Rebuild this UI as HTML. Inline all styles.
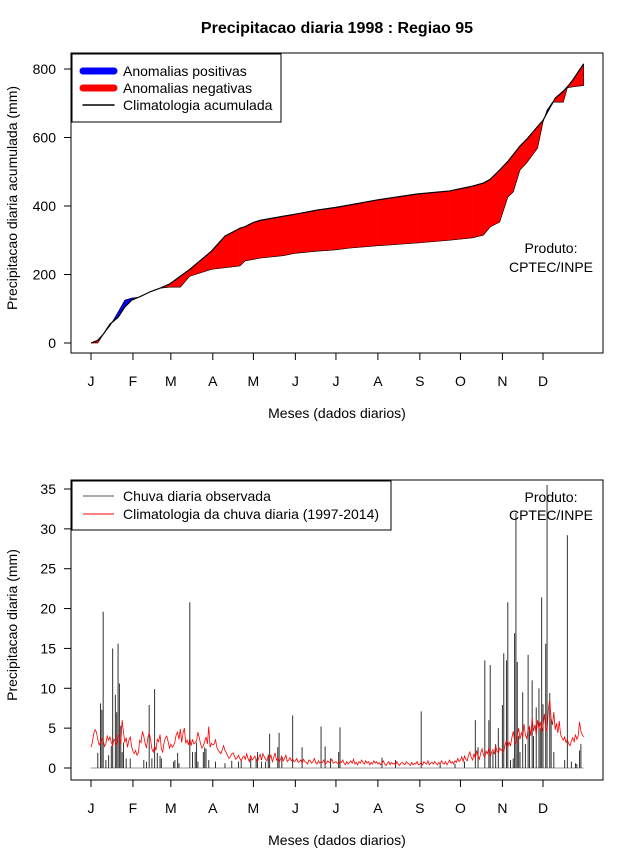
<!DOCTYPE html>
<html><head><meta charset="utf-8">
<style>
html,body{margin:0;padding:0;background:#fff;}
svg{display:block;font-family:"Liberation Sans",Arial,sans-serif;}
</style></head>
<body>
<svg id="chart" width="640" height="850" viewBox="0 0 640 850" xmlns="http://www.w3.org/2000/svg">
<rect width="640" height="850" fill="#fff"/>
<text x="337" y="33" text-anchor="middle" font-size="16" font-weight="bold">Precipitacao diaria 1998 : Regiao 95</text>
<g id="top"></g>
<g id="bot"></g>
</svg>
<script>
const monthLabels=["J","F","M","A","M","J","J","A","S","O","N","D"];
const monthStartDays=[1,32,60,91,121,152,182,213,244,274,305,335];
const topYTicks=[0,200,400,600,800];
const botYTicks=[0,5,10,15,20,25,30,35];
// cumulative panel data
const accDays=[1,6,10,15,21,26,31,37,45,52,59,67,74,90,100,111,115,121,126,143,152,168,182,192,213,242,266,283,291,296,303,309,313,318,323,331,335,338,342,344,350,353,357,365];
const climAcc=[0,8,25,55,75,105,125,135,150,160,172,195,215,268,312,335,340,352,358,370,376,388,396,403,418,435,444,458,467,478,505,530,550,575,595,632,650,672,700,715,735,748,768,815];
const obsAcc=[0,0,25,50,90,125,131,134,150,160,163,163,195,215,220,225,240,244,248,255,262,268,272,277,284,292,300,307,315,339,353,426,441,505,526,569,645,680,703,703,703,745,748,752];
// daily panel data
const climDaily=[2.6,3.2,4.3,4.8,4.5,3.6,2.9,3.2,3.8,3.4,2.7,3.1,4.0,3.5,3.9,3.2,2.8,3.6,3.3,2.9,4.2,3.8,3.0,6.0,4.5,3.2,3.8,2.6,3.5,3.9,2.7,
2.1,1.8,2.2,1.6,1.9,3.5,3.2,4.6,4.0,3.1,2.5,3.8,4.4,3.6,2.4,2.0,2.8,2.2,3.6,3.3,4.2,2.4,2.0,3.2,3.8,4.0,3.3,2.5,
3.0,2.6,2.8,3.3,4.2,4.5,3.6,4.9,3.2,4.4,5.0,3.1,3.5,2.9,3.7,2.8,3.6,3.0,3.2,3.4,4.5,3.8,3.0,2.5,2.8,3.3,3.9,3.0,5.2,2.6,3.1,
2.9,3.0,3.6,2.6,2.2,2.0,1.8,2.3,2.8,2.2,1.9,1.5,1.2,1.4,1.8,1.9,1.5,1.1,1.3,1.6,1.2,0.9,1.3,1.5,1.1,1.8,1.2,0.8,1.6,1.0,
1.2,1.5,1.1,0.8,1.3,1.7,1.0,1.8,1.4,1.1,0.9,1.5,1.2,1.6,0.8,1.3,1.9,1.0,1.2,0.7,1.1,1.5,0.9,1.2,1.6,0.8,1.0,1.3,0.9,1.1,0.8,
0.9,1.2,0.7,0.8,1.0,0.6,1.1,0.8,0.7,0.5,1.0,0.9,0.6,0.8,1.2,0.7,0.5,0.9,0.6,0.8,0.7,1.0,0.5,0.6,0.9,0.7,0.8,1.1,0.6,0.7,
0.8,0.6,0.5,0.9,0.7,1.0,0.6,0.4,0.8,0.5,0.7,0.9,0.6,1.1,0.5,0.7,0.4,0.8,0.6,1.0,0.7,0.5,0.9,0.6,0.8,0.4,0.7,0.5,0.9,0.6,0.8,
0.5,0.7,0.4,0.6,0.9,0.5,0.3,0.6,0.8,0.4,0.7,0.5,0.6,0.4,0.8,0.5,0.3,0.6,0.7,0.5,0.4,0.8,0.6,0.5,0.3,0.7,0.4,0.6,0.5,0.8,0.4,
0.5,0.7,0.4,0.8,0.6,0.5,0.9,0.4,0.6,0.7,0.5,0.8,0.6,0.4,0.7,0.5,0.9,0.6,0.5,0.8,0.4,0.7,1.0,0.6,0.8,0.5,0.9,0.7,1.2,0.8,
1.0,1.4,0.8,1.5,1.1,0.9,1.6,2.0,1.3,1.0,1.8,1.2,2.2,1.5,1.1,1.9,2.4,1.6,1.3,2.1,1.8,2.6,1.4,2.0,2.3,1.7,2.8,2.1,1.9,2.5,2.2,
2.4,2.0,2.9,3.5,2.6,3.2,2.8,3.8,4.6,3.4,3.0,4.2,5.0,3.6,4.4,3.9,5.5,4.1,3.7,4.8,5.2,4.0,6.3,4.6,5.4,4.2,6.0,4.9,5.8,4.5,
5.2,6.8,5.0,4.6,7.5,8.5,6.2,5.4,7.0,4.8,5.6,4.4,5.9,4.2,3.8,3.5,3.9,3.2,3.6,3.0,2.8,3.4,3.8,3.3,4.2,3.6,4.0,5.8,4.6,4.2,3.9];
const obsDays=[6,8,9,10,12,14,16,17,19,20,21,22,23,24,25,27,30,40,42,44,46,48,50,52,53,62,63,65,66,74,76,78,79,80,84,85,86,88,93,100,105,110,112,119,123,124,127,130,132,133,139,140,142,150,157,171,174,178,184,185,216,226,245,259,270,277,285,287,292,295,296,298,300,302,305,306,308,309,311,313,314,315,316,317,318,320,322,324,325,327,328,330,332,333,334,335,337,338,340,341,343,351,353,356,359,360,362,363];
const obsVals=[1.9,8.1,7.3,19.6,1.0,1.6,2.8,15,9.2,7.0,15.6,10.6,5.3,2.0,3.2,1.2,1.2,1.0,0.8,7.9,1.2,9.9,1.9,1.5,1.2,0.8,1.0,1.9,0.6,20.8,2.0,2.0,3.2,0.8,2.0,2.6,2.4,1.0,0.8,0.6,0.9,0.8,1.0,1.2,1.2,2.0,0.8,0.8,1.7,4.3,2.6,4.4,1.4,6.6,2.6,5.2,2.7,1.2,2.0,5.1,1.3,1.0,7.1,0.6,0.5,0.8,6.0,2.6,13.5,6.0,12.9,2.0,3.0,5.0,7.9,14.4,13.5,20.8,1.0,1.2,16.9,32,13.3,4.0,2.0,9.5,3.0,14.2,5.0,11,4.0,7.6,10,5.0,21.4,8.0,15.6,35.5,9.4,6.2,2.0,1.0,29.2,0.8,0.6,0.5,2.2,3.0];

const NS="http://www.w3.org/2000/svg";
function mk(parent,tag,attrs,txt){const e=document.createElementNS(NS,tag);for(const k in attrs)e.setAttribute(k,attrs[k]);if(txt!==undefined)e.textContent=txt;parent.appendChild(e);return e;}
const xS=d=>91+(d-1)*(452/334);
const yTop=v=>343-v*(274/800);
const yBot=v=>768-v*(279/35);

function axes(g,top,bottom,yS,ticks,xlabY,xtitleY,ytitle,ytitleY){
  const b=mk(g,'rect',{x:71,y:top,width:532,height:bottom-top,fill:'none',stroke:'#000','stroke-width':1});
  
  const ya=mk(g,'g',{});
  mk(ya,'line',{x1:71,x2:71,y1:yS(ticks[0]),y2:yS(ticks[ticks.length-1]),stroke:'#000'});
  ticks.forEach(t=>{const y=yS(t);mk(ya,'line',{x1:64,x2:71,y1:y,y2:y,stroke:'#000'});
    const tl=mk(ya,'text',{x:56,y:y+5,'text-anchor':'end','font-size':14},String(t));
    });
  const xa=mk(g,'g',{});
  monthStartDays.forEach((d,i)=>{const x=xS(d);mk(xa,'line',{x1:x,x2:x,y1:bottom,y2:bottom+7,stroke:'#000'});
    const tl=mk(xa,'text',{x:x,y:xlabY,'text-anchor':'middle','font-size':14},monthLabels[i]);
    });
  const xt=mk(g,'text',{x:337,y:xtitleY,'text-anchor':'middle','font-size':14},'Meses (dados diarios)');
  
  const yt=mk(g,'text',{x:0,y:0,'text-anchor':'middle','font-size':14,transform:`translate(17,${ytitleY}) rotate(-90)`},ytitle);
  
}

// ---- top panel
const T=document.getElementById('top');
const fills=mk(T,'g',{});
for(let i=0;i<accDays.length-1;i++){
  const x0=xS(accDays[i]),x1=xS(accDays[i+1]);
  const c0=climAcc[i],c1=climAcc[i+1],o0=obsAcc[i],o1=obsAcc[i+1];
  const d0=o0-c0,d1=o1-c1;
  const segs=[];
  if(d0*d1<0){const f=d0/(d0-d1);const xm=x0+(x1-x0)*f;const vm=c0+(c1-c0)*f;
    segs.push([[x0,c0,o0],[xm,vm,vm],d0]);segs.push([[xm,vm,vm],[x1,c1,o1],d1]);}
  else segs.push([[x0,c0,o0],[x1,c1,o1],d0+d1]);
  segs.forEach(s=>{const a=s[0],b=s[1];if(s[2]===0)return;
    const p=mk(fills,'polygon',{points:`${a[0]},${yTop(a[1])} ${b[0]},${yTop(b[1])} ${b[0]},${yTop(b[2])} ${a[0]},${yTop(a[2])}`,fill:s[2]>0?'#0000ff':'#ff0000',stroke:s[2]>0?'#0000ff':'#ff0000','stroke-width':0.4});
    });
}
const op=mk(T,'polyline',{points:accDays.map((d,i)=>xS(d)+','+yTop(obsAcc[i])).join(' ')+' '+xS(365)+','+yTop(climAcc[climAcc.length-1]),fill:'none',stroke:'#000','stroke-width':0.6});

const cp=mk(T,'polyline',{points:accDays.map((d,i)=>xS(d)+','+yTop(climAcc[i])).join(' '),fill:'none',stroke:'#000','stroke-width':1.2});

axes(T,53,353,yTop,topYTicks,386,418,'Precipitacao diaria acumulada (mm)',198);
const lg=mk(T,'g',{});
mk(lg,'rect',{x:72,y:54,width:209,height:68,fill:'#fff',stroke:'#000'});
[['#0000ff',7,'Anomalias positivas'],['#ff0000',7,'Anomalias negativas'],['#000',1.5,'Climatologia acumulada']].forEach((e,i)=>{
  const y=71+i*17;const en=mk(lg,'g',{});
  mk(en,'line',{x1:83,x2:114,y1:y,y2:y,stroke:e[0],'stroke-width':e[1],'stroke-linecap':'round'});
  mk(en,'text',{x:123,y:y+5,'font-size':14},e[2]);});
const p1=mk(T,'text',{x:551,y:253,'text-anchor':'middle','font-size':14},'Produto:');
const p2=mk(T,'text',{x:551,y:272,'text-anchor':'middle','font-size':14},'CPTEC/INPE');

// ---- bottom panel
const B=document.getElementById('bot');
mk(B,'line',{x1:xS(1),x2:xS(365),y1:yBot(0),y2:yBot(0),stroke:'#999','stroke-width':1});
const bars=mk(B,'g',{});
obsDays.forEach((d,i)=>{const x=xS(d);const l=mk(bars,'line',{x1:x,x2:x,y1:yBot(0),y2:yBot(obsVals[i]),stroke:'#333','stroke-width':1});
  });
const cl=mk(B,'polyline',{points:climDaily.map((v,i)=>xS(i+1)+','+yBot(v)).join(' '),fill:'none',stroke:'#ff0000','stroke-width':0.8});

axes(B,480,780,yBot,botYTicks,813,845,'Precipitacao diaria (mm)',625);
const lg2=mk(B,'g',{});
mk(lg2,'rect',{x:72,y:481,width:319,height:49,fill:'#fff',stroke:'#000'});
[['#555','Chuva diaria observada'],['#ff0000','Climatologia da chuva diaria (1997-2014)']].forEach((e,i)=>{
  const y=496+i*18;const en=mk(lg2,'g',{});
  mk(en,'line',{x1:83,x2:114,y1:y,y2:y,stroke:e[0],'stroke-width':1});
  mk(en,'text',{x:123,y:y+5,'font-size':14},e[1]);});
const p3=mk(B,'text',{x:551,y:502,'text-anchor':'middle','font-size':14},'Produto:');
const p4=mk(B,'text',{x:551,y:520,'text-anchor':'middle','font-size':14},'CPTEC/INPE');
</script>
</body></html>
